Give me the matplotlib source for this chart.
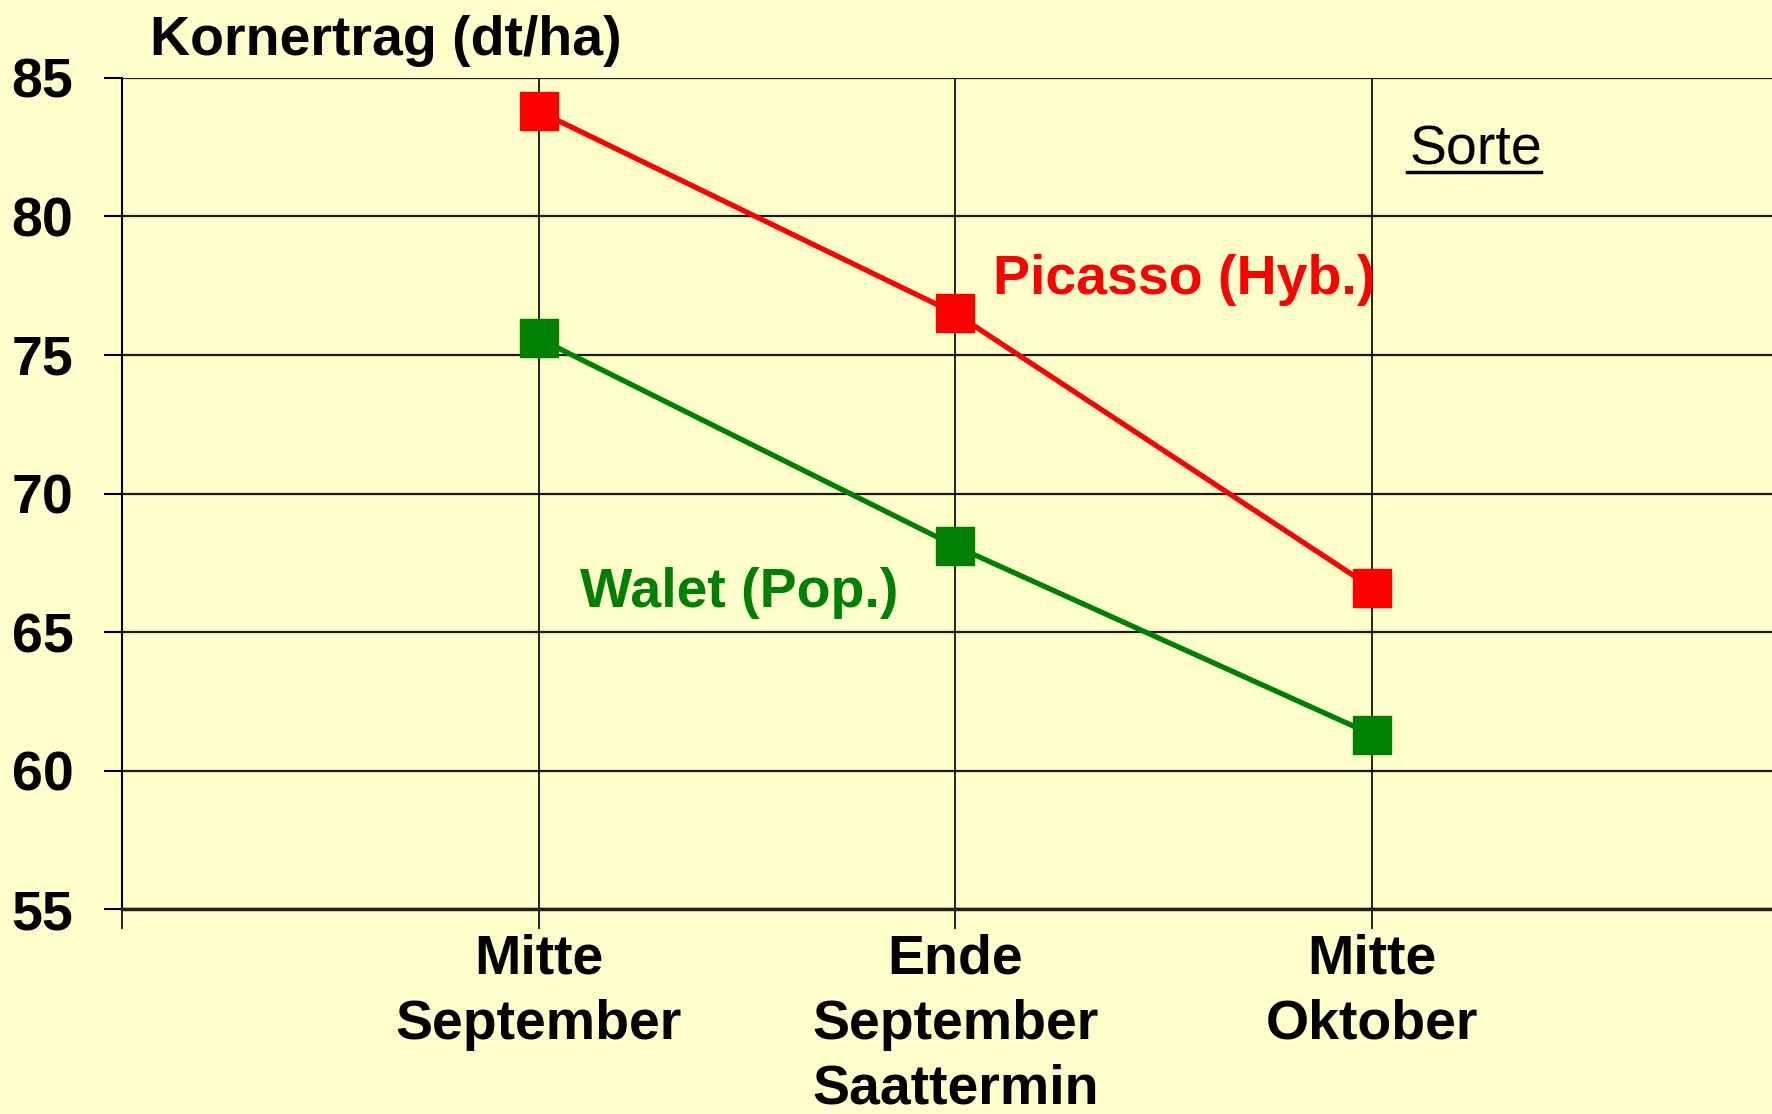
import matplotlib
matplotlib.use("Agg")
import matplotlib.pyplot as plt

plt.rcParams['font.family'] = ['Liberation Sans', 'DejaVu Sans']

# Saattermin (x) und Kornertrag in dt/ha (y)
termine = ['Mitte\nSeptember', 'Ende\nSeptember\nSaattermin', 'Mitte\nOktober']
picasso = [83.8, 76.5, 66.6]
walet = [75.6, 68.1, 61.3]
y_ticks = [55, 60, 65, 70, 75, 80, 85]

bg = '#FFFFCC'
rot = '#FF0000'
gruen = '#008000'

fig = plt.figure(figsize=(17.72, 11.14), dpi=100, facecolor=bg)
ax = fig.add_axes([0.0689, 0.184, 0.9311, 0.746])
ax.set_facecolor(bg)

x = [1, 2, 3]
ax.plot(x, picasso, color=rot, lw=3.8, marker='s', ms=27, zorder=5, clip_on=False)
ax.plot(x, walet, color=gruen, lw=3.8, marker='s', ms=27, zorder=5, clip_on=False)

ax.set_xlim(0, 3.96)
ax.set_ylim(55, 85)

ax.set_yticks(y_ticks)
ax.set_yticklabels([str(v) for v in y_ticks], fontsize=40, fontweight='bold')
ax.set_xticks([0, 1, 2, 3])
ax.set_xticklabels([''] + termine, fontsize=40, fontweight='bold', linespacing=1.33)

ax.tick_params(axis='y', direction='out', length=13, width=1.5, pad=22, color='black')
ax.tick_params(axis='x', direction='out', length=14.5, width=1.2, pad=3, color='black')

# Gitterlinien
for v in y_ticks:
    ax.axhline(v, color='#1a1a1a', lw=1.6, zorder=1)
for xi in x:
    ax.axvline(xi, color='black', lw=1.2, zorder=1)

for s in ['top', 'right']:
    ax.spines[s].set_visible(False)
ax.spines['left'].set_linewidth(1.5)
ax.spines['bottom'].set_linewidth(2.5)
ax.spines['bottom'].set_color('#222222')

fig.text(150 / 1772, 1 - 41 / 1114, 'Kornertrag (dt/ha)', fontsize=40, fontweight='bold',
         ha='left', va='center')

ax.annotate('Picasso (Hyb.)', xy=(2.09, 77.7), color=rot, fontsize=40, fontweight='bold',
            ha='left', va='center')
ax.annotate('Walet (Pop.)', xy=(1.1, 66.4), color=gruen, fontsize=40, fontweight='bold',
            ha='left', va='center')

ax.text(3.09, 82.4, 'Sorte', fontsize=40, ha='left', va='center')
ax.plot([3.085, 3.405], [81.6, 81.6], color='black', lw=2.5, clip_on=False)

fig.savefig('out.png', dpi=100, facecolor=bg)
